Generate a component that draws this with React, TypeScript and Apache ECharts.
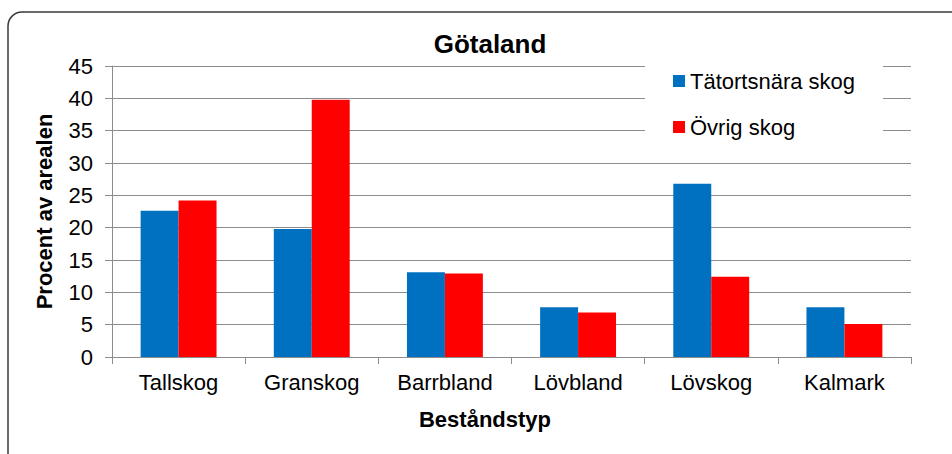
import React, { useEffect, useRef } from "react";
import * as echarts from "echarts";

const categories = ["Tallskog", "Granskog", "Barrbland", "Lövbland", "Lövskog", "Kalmark"];
const tatortsnara = [22.6, 19.8, 13.1, 7.7, 26.8, 7.7];
const ovrig = [24.2, 39.8, 12.9, 6.9, 12.4, 5.1];
const seriesNames = ["Tätortsnära skog", "Övrig skog"];
const title = "Götaland";
const yName = "Procent av arealen";
const xName = "Beståndstyp";

const FONT = "'Liberation Sans', Arial, Helvetica, sans-serif";
const GRID = "#8c8c8c";

export default function App() {
  const ref = useRef<HTMLDivElement>(null);
  useEffect(() => {
    if (!ref.current) return;
    const chart = echarts.init(ref.current, undefined, { renderer: "svg" });
    chart.setOption({
      animation: false,
      backgroundColor: "#ffffff",
      textStyle: { fontFamily: FONT },
      title: {
        text: title,
        left: 490,
        top: 31,
        textAlign: "center",
        padding: 0,
        textStyle: { fontFamily: FONT, fontSize: 26, fontWeight: "bold", color: "#000" },
      },
      graphic: [
        {
          type: "rect",
          z: -10,
          shape: { x: 8, y: 12, width: 990, height: 490, r: 14 },
          style: { fill: "none", stroke: "#3a3a3a", lineWidth: 1.5 },
        },
      ],
      legend: {
        orient: "vertical",
        left: 645,
        top: 56,
        padding: [14, 28, 12, 28],
        itemGap: 24,
        itemWidth: 12,
        itemHeight: 12,
        icon: "rect",
        backgroundColor: "#ffffff",
        textStyle: { fontFamily: FONT, fontSize: 22, color: "#000" },
        data: seriesNames,
      },
      grid: { left: 112, right: 41, top: 66, bottom: 97, containLabel: false },
      xAxis: {
        type: "category",
        data: categories,
        name: xName,
        nameLocation: "middle",
        nameGap: 51,
        nameTextStyle: {
          fontFamily: FONT,
          fontSize: 22,
          fontWeight: "bold",
          color: "#000",
          padding: [0, 53, 0, 0],
        },
        axisLine: { show: true, lineStyle: { color: GRID, width: 1 } },
        axisTick: { show: true, length: 7, lineStyle: { color: GRID } },
        axisLabel: { fontFamily: FONT, fontSize: 22, color: "#000", margin: 14 },
      },
      yAxis: {
        type: "value",
        min: 0,
        max: 45,
        interval: 5,
        name: yName,
        nameLocation: "middle",
        nameGap: 57,
        nameTextStyle: { fontFamily: FONT, fontSize: 22, fontWeight: "bold", color: "#000" },
        axisLine: { show: true, lineStyle: { color: GRID, width: 1 } },
        axisTick: { show: true, length: 7, lineStyle: { color: GRID } },
        axisLabel: { fontFamily: FONT, fontSize: 22, color: "#000", margin: 19 },
        splitLine: { show: true, lineStyle: { color: GRID, width: 1 } },
      },
      series: [
        {
          name: seriesNames[0],
          type: "bar",
          data: tatortsnara,
          itemStyle: { color: "#0070C0" },
          barGap: "0%",
          barCategoryGap: "43%",
        },
        {
          name: seriesNames[1],
          type: "bar",
          data: ovrig,
          itemStyle: { color: "#FF0000" },
          barGap: "0%",
          barCategoryGap: "43%",
        },
      ],
    });
    return () => chart.dispose();
  }, []);
  return (
    <div
      ref={ref}
      style={{ position: "fixed", left: 0, top: 0, width: 952, height: 454 }}
    />
  );
}
